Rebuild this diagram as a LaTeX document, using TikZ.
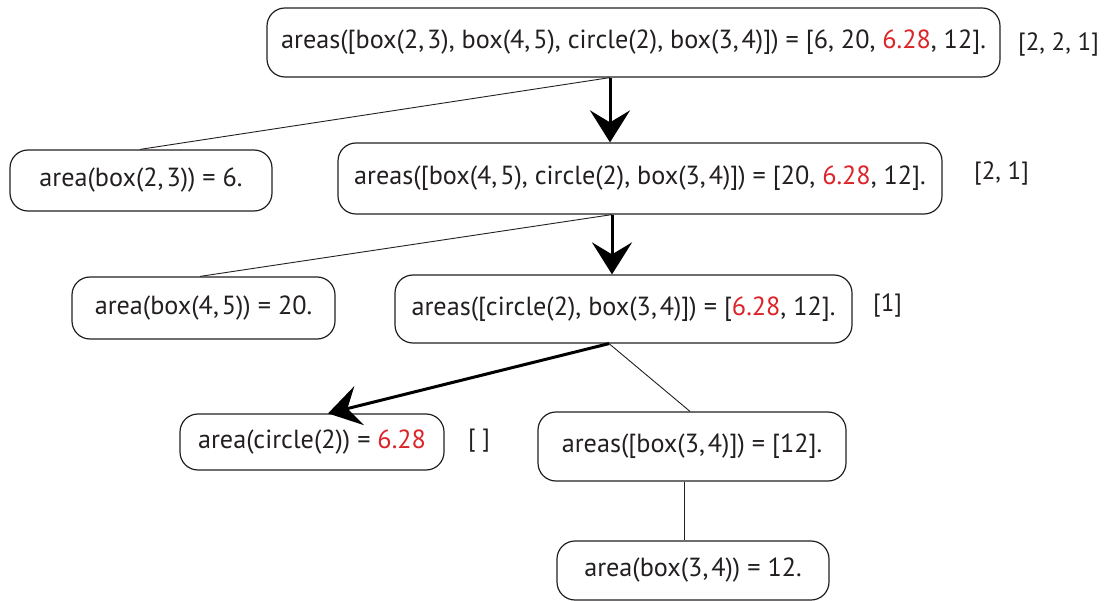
\documentclass[tikz,border=0pt]{standalone}
\usepackage{fontspec}
\setmainfont{PT Sans}
\usetikzlibrary{arrows.meta}
\definecolor{hl}{RGB}{220,35,40}
\definecolor{ink}{RGB}{35,31,32}
\tikzset{
  fbox/.style={draw=ink, line width=1.2pt, rounded corners=18pt, align=center, inner sep=0pt, text=ink, font=\fontsize{26.2}{30}\selectfont},
  side/.style={text=ink, font=\fontsize{25}{30}\selectfont, inner sep=0pt},
  thin/.style={draw=ink, line width=0.9pt},
  main/.style={draw=black, line width=3pt, -{Stealth[length=32pt,width=40pt,inset=12pt]}}
}
\newcommand{\hv}[1]{\textcolor{hl}{#1}}
\newcommand{\cs}{,\kern3pt}
\begin{document}
\begin{tikzpicture}[x=1pt,y=-1pt]
\useasboundingbox (0,0) rectangle (1105,601);
\node[fbox, minimum width=733pt, minimum height=69pt] (b1) at (633.5,42.5) {areas([box(2\cs 3), box(4\cs 5), circle(2), box(3\cs 4)]) = [6, 20, \hv{6.28}, 12].};
\node[fbox, minimum width=262pt, minimum height=61pt] (b2) at (141,180.5) {area(box(2\cs 3)) = 6.};
\node[fbox, minimum width=604pt, minimum height=71pt] (b3) at (640,178.5) {areas([box(4\cs 5), circle(2), box(3\cs 4)]) = [20, \hv{6.28}, 12].};
\node[fbox, minimum width=263pt, minimum height=62pt] (b4) at (203.5,308) {area(box(4\cs 5)) = 20.};
\node[fbox, minimum width=457pt, minimum height=68pt] (b5) at (623.5,309) {areas([circle(2), box(3\cs 4)]) = [\hv{6.28}, 12].};
\node[fbox, minimum width=264pt, minimum height=56pt] (b6) at (312,442) {area(circle(2)) = \hv{6.28}};
\node[fbox, minimum width=308pt, minimum height=69pt] (b7) at (692,446.5) {areas([box(3\cs 4)]) = [12].};
\node[fbox, minimum width=272pt, minimum height=59pt] (b8) at (693,570.5) {area(box(3\cs 4)) = 12.};
\node[side, anchor=west] (l1) at (1018,44) {[2, 2, 1]};
\node[side, anchor=west] (l3) at (974,173) {[2, 1]};
\node[side, anchor=west] (l5) at (873,305) {[1]};
\node[side, anchor=west] (l6) at (468,441) {[ ]};
\draw[thin] ([xshift=-23.5pt]b1.south) -- ([xshift=-1pt]b2.north);
\draw[main] ([xshift=-23.5pt]b1.south) -- ([xshift=-30pt]b3.north);
\draw[thin] ([xshift=-28pt]b3.south) -- ([xshift=-3.5pt]b4.north);
\draw[main] ([xshift=-28pt]b3.south) -- ([xshift=-11.5pt]b5.north);
\draw[thin] ([xshift=-14.5pt]b5.south) -- ([xshift=-2pt]b7.north);
\draw[main] ([xshift=-14.5pt]b5.south) -- ([xshift=16pt]b6.north);
\draw[thin] ([xshift=-8pt]b7.south) -- ([xshift=-9pt]b8.north);
\end{tikzpicture}
\end{document}
